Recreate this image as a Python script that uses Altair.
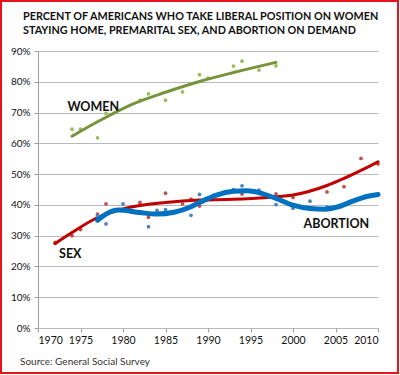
import altair as alt
import pandas as pd

# ---- data ----
# survey points
women_years = [1974, 1975, 1977, 1978, 1982, 1983, 1985, 1987, 1989, 1990, 1993, 1994, 1996, 1998]
women_pct = [64.6, 64.6, 61.8, 69.7, 74.0, 76.1, 74.0, 76.7, 82.3, 81.2, 85.1, 86.7, 83.8, 85.2]

sex_years = [1972, 1974, 1975, 1977, 1978, 1982, 1983, 1985, 1987, 1988, 1989, 1994, 1998, 2000, 2004, 2006, 2008, 2010]
sex_pct = [27.8, 30.0, 32.0, 37.0, 40.3, 40.8, 36.0, 43.8, 40.3, 41.9, 39.6, 43.5, 43.6, 42.4, 44.2, 45.9, 55.1, 53.3]

abortion_years = [1977, 1978, 1980, 1983, 1984, 1985, 1988, 1989, 1993, 1994, 1996, 1998, 2000, 2002, 2004, 2010]
abortion_pct = [36.5, 33.8, 40.3, 32.9, 38.2, 38.5, 36.6, 43.4, 45.0, 46.2, 44.8, 40.1, 38.9, 41.2, 39.3, 43.3]

# trend lines (as drawn in the reference)
women_trend_years = [1974, 1977, 1981, 1985, 1989, 1993, 1998]
women_trend_pct = [62.3, 67.0, 72.6, 76.6, 80.1, 83.0, 86.3]

sex_trend_years = [1972, 1974, 1977, 1980, 1985, 1989, 1993, 1997, 2000, 2004, 2006, 2008, 2010]
sex_trend_pct = [27.4, 31.0, 35.9, 38.7, 40.8, 41.6, 41.8, 42.4, 43.2, 46.3, 48.6, 51.2, 54.0]

abortion_trend_years = [1977, 1978, 1979.5, 1982, 1984, 1986, 1988, 1989, 1991, 1993, 1994.6, 1996, 1998, 2000,
                        2002, 2003.7, 2005.2, 2007.2, 2008.8, 2010]
abortion_trend_pct = [35.0, 37.0, 38.3, 37.5, 37.0, 37.6, 39.4, 40.8, 43.2, 44.4, 44.6, 44.0, 42.1, 39.9,
                      38.8, 38.6, 39.3, 41.4, 42.8, 43.4]

x_ticks = [1970, 1975, 1980, 1985, 1990, 1995, 2000, 2005, 2010]
y_ticks = [0, 10, 20, 30, 40, 50, 60, 70, 80, 90]

label_text = ["WOMEN", "SEX", "ABORTION"]
label_year = [1976.5, 1973.8, 2005.1]
label_pct = [71.8, 24.0, 33.7]

title_lines = ["PERCENT OF AMERICANS WHO TAKE LIBERAL POSITION ON WOMEN",
               "STAYING HOME, PREMARITAL SEX, AND ABORTION ON DEMAND"]
source_text = "Source: General Social Survey"

FONT = "Lato"


def frame(years, pcts):
    return pd.DataFrame({"year": years, "pct": pcts})


labels = pd.DataFrame({"text": label_text, "year": label_year, "pct": label_pct})

xscale = alt.Scale(domain=[1970, 2010], nice=False, zero=False)
yscale = alt.Scale(domain=[0, 90], nice=False)

X = alt.X("year:Q", scale=xscale, title=None,
          axis=alt.Axis(values=x_ticks, format="d", grid=False, domain=False,
                        ticks=True, tickSize=4, tickColor="#A0A0A0",
                        labelFont=FONT, labelFontSize=10.5, labelColor="#111",
                        labelPadding=3))
Y = alt.Y("pct:Q", scale=yscale, title=None,
          axis=alt.Axis(values=y_ticks, labelExpr="datum.value + '%'",
                        grid=True, gridColor="#B8B8B8", gridWidth=1,
                        domain=True, domainColor="#A0A0A0",
                        ticks=True, tickSize=4, tickColor="#A0A0A0",
                        labelFont=FONT, labelFontSize=10, labelColor="#111",
                        labelPadding=4))


def dots(df, color):
    return alt.Chart(df).mark_circle(size=14, opacity=1, color=color).encode(x=X, y=Y)


def trend(df, color, width):
    return (alt.Chart(df)
            .mark_line(color=color, strokeWidth=width, strokeCap="round", strokeJoin="round",
                       interpolate="monotone")
            .encode(x=X, y=Y))


women_layer = dots(frame(women_years, women_pct), "#9BBB59") + \
    trend(frame(women_trend_years, women_trend_pct), "#77933C", 3)
sex_layer = dots(frame(sex_years, sex_pct), "#C0504D") + \
    trend(frame(sex_trend_years, sex_trend_pct), "#C00000", 3)
ab_layer = dots(frame(abortion_years, abortion_pct), "#4F81BD") + \
    trend(frame(abortion_trend_years, abortion_trend_pct), "#0070C0", 5)

label_layer = alt.Chart(labels).mark_text(
    font=FONT, fontSize=12.5, fontWeight="bold", color="#111", align="center", baseline="middle"
).encode(x=X, y=Y, text="text:N")

title1 = alt.Chart(pd.DataFrame({"t": [title_lines[0]]})).mark_text(
    font=FONT, fontSize=10.8, fontWeight="bold", color="#111", align="left", baseline="alphabetic"
).encode(x=alt.value(-15), y=alt.value(-31), text="t:N")
title2 = alt.Chart(pd.DataFrame({"t": [title_lines[1]]})).mark_text(
    font=FONT, fontSize=10.8, fontWeight="bold", color="#111", align="left", baseline="alphabetic"
).encode(x=alt.value(-15), y=alt.value(-17), text="t:N")
source = alt.Chart(pd.DataFrame({"t": [source_text]})).mark_text(
    font=FONT, fontSize=10, color="#333", align="left", baseline="alphabetic"
).encode(x=alt.value(-18), y=alt.value(314), text="t:N")

border = alt.Chart(pd.DataFrame({"a": [0]})).mark_rect(
    fill=None, stroke="#E8141B", strokeWidth=2
).encode(x=alt.value(-37), x2=alt.value(360), y=alt.value(-50), y2=alt.value(322))

chart = alt.layer(
    women_layer, sex_layer, ab_layer, label_layer, title1, title2, source, border
).properties(
    width=340, height=277,
    autosize=alt.AutoSizeParams(type="none"),
    padding={"left": 38, "top": 51, "right": 22, "bottom": 47},
    background="white",
).configure_view(stroke=None)

chart.save("out.html", embed_options={"renderer": "svg", "actions": False})
